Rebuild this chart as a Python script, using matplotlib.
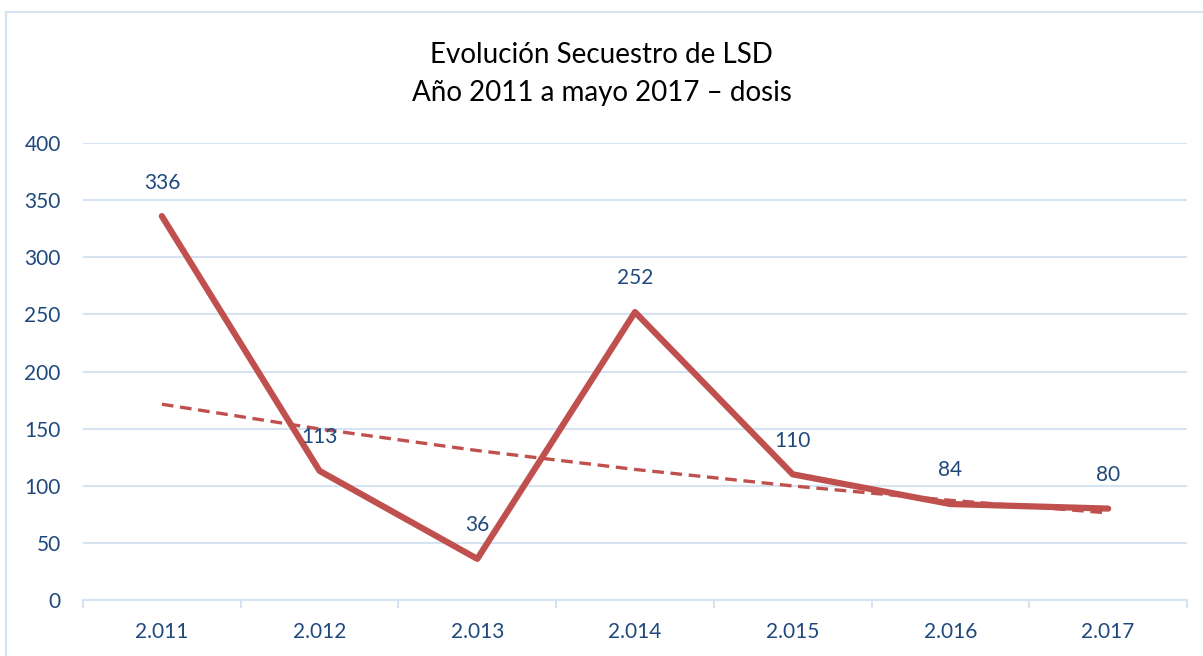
import numpy as np
import matplotlib.pyplot as plt
from matplotlib.patches import Rectangle

years = ["2.011", "2.012", "2.013", "2.014", "2.015", "2.016", "2.017"]
dosis = [336, 113, 36, 252, 110, 84, 80]

TITLE = "Evolución Secuestro de LSD\nAño 2011 a mayo 2017 – dosis"
LINE_COLOR = "#c0504d"
TEXT_COLOR = "#1f497d"
GRID_COLOR = "#d6e3f3"

plt.rcParams["font.family"] = ["Lato", "DejaVu Sans"]

fig = plt.figure(figsize=(12.03, 6.56), dpi=100)
ax = fig.add_axes([83 / 1203, 1 - 600 / 656, (1187 - 83) / 1203, (600 - 143) / 656])

x = np.arange(len(years))
y = np.array(dosis, dtype=float)

# exponential trend line, same as Excel's "exponential" trendline
b, a = np.polyfit(x, np.log(y), 1)
trend = np.exp(a + b * x)

ax.plot(x, trend, color=LINE_COLOR, lw=2.4, ls=(0, (3.5, 2)), zorder=3)
ax.plot(x, y, color=LINE_COLOR, lw=4.5, solid_capstyle="round",
        solid_joinstyle="round", zorder=4)

for xi, yi in zip(x, dosis):
    ax.annotate(str(yi), (xi, yi), xytext=(0, 17), textcoords="offset points",
                ha="center", va="bottom", fontsize=15, color=TEXT_COLOR, zorder=5)

ax.set_xlim(-0.5, len(years) - 0.5)
ax.set_ylim(0, 400)
ax.set_yticks(range(0, 401, 50))
ax.set_xticks(x)
ax.set_xticklabels(years)
ax.set_xticks(np.arange(-0.5, len(years), 1), minor=True)

ax.grid(axis="y", color=GRID_COLOR, lw=1.5)
ax.set_axisbelow(True)
for s in ["top", "right", "left"]:
    ax.spines[s].set_visible(False)
ax.spines["bottom"].set_color(GRID_COLOR)
ax.spines["bottom"].set_linewidth(1.5)

ax.tick_params(axis="y", length=0, pad=16, labelsize=15, labelcolor=TEXT_COLOR)
ax.tick_params(axis="x", which="major", length=0, pad=16, labelsize=15,
               labelcolor=TEXT_COLOR)
ax.tick_params(axis="x", which="minor", length=6, width=1.5, color=GRID_COLOR)

fig.text(0.5, 1 - 74 / 656, TITLE, ha="center", va="center", fontsize=20,
         color="black", linespacing=1.6)

# chart frame
fig.patches.append(Rectangle((6 / 1203, -0.1), 1.2, 1 - 12 / 656 + 0.1,
                             transform=fig.transFigure, fill=False,
                             edgecolor=GRID_COLOR, lw=1.5))

fig.savefig("out.png", dpi=100)
